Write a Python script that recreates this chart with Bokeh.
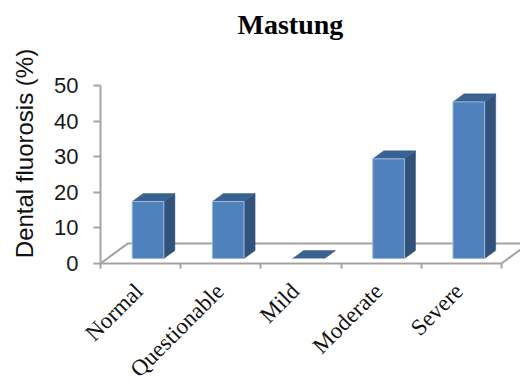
from bokeh.core.properties import value
from bokeh.embed import file_html
from bokeh.models import FixedTicker, Range1d
from bokeh.plotting import figure
from bokeh.resources import INLINE

categories = ["Normal", "Questionable", "Mild", "Moderate", "Severe"]
fluorosis_pct = [16, 16, 0, 28, 44]
y_ticks = [0, 10, 20, 30, 40, 50]
y_title = "Dental fluorosis (%)"

GRID = "#a3a3a3"
FRONT, SIDE, TOP = "#4f81bd", "#30527b", "#3a6291"
EDGE = "#9db9da"

# Pseudo-3D geometry, in data units
BASE = 1.4
LEFT, WIDTH = 0.395, 0.395
BAR_DX, BAR_DY = 0.1375, 2.25
WALL_DX, WALL_DY = 0.3375, 5.6

# The plot area fills the canvas below the title, so the axes sit at fixed
# data locations and the rotated labels can be drawn inside it
X_MIN, X_MAX = -100 / 80.2, 420 / 80.2
Y_MIN, Y_MAX = -32.3, 61.8

# Where each rotated category label ends along the axis
label_pos = [0.48, 1.49, 2.43, 3.47, 4.47]
LABEL_Y = -6.7
Y_TITLE_X, Y_TITLE_Y = -0.948, 30.9

p = figure(width=520, height=378, output_backend="svg", toolbar_location=None,
           x_range=Range1d(X_MIN, X_MAX), y_range=Range1d(Y_MIN, Y_MAX),
           min_border_left=0, min_border_right=0, min_border_top=43, min_border_bottom=0)
p.outline_line_color = None
p.grid.visible = False
p.background_fill_color = None

# Floor of the chart box
n = len(categories)
p.line([0, WALL_DX, X_MAX], [0, WALL_DY, WALL_DY], line_color=GRID, line_width=2)
p.line([n, X_MAX], [0, (X_MAX - n) / WALL_DX * WALL_DY], line_color=GRID, line_width=2)

# Each bar is a front face with a side and a top drawn behind it
xl = [i + LEFT for i in range(n)]
xr = [x + WIDTH for x in xl]
yt = [BASE + v for v in fluorosis_pct]

p.patches([[r, r + BAR_DX, r + BAR_DX, r] for r in xr],
          [[BASE, BASE + BAR_DY, t + BAR_DY, t] for t in yt],
          fill_color=SIDE, line_color=SIDE, line_width=0.5)
p.patches([[l, l + BAR_DX, r + BAR_DX, r] for l, r in zip(xl, xr)],
          [[t, t + BAR_DY, t + BAR_DY, t] for t in yt],
          fill_color=TOP, line_color=TOP, line_width=0.5)
p.quad(left=xl, right=xr, bottom=BASE, top=yt,
       fill_color=FRONT, line_color=EDGE, line_width=1)

xaxis = p.xaxis[0]
xaxis.fixed_location = 0
xaxis.bounds = (0, n)
xaxis.ticker = FixedTicker(ticks=list(range(n + 1)))
xaxis.major_label_text_font_size = "0px"
xaxis.major_label_text_color = None
xaxis.major_tick_out = 5
xaxis.major_tick_in = 0
xaxis.major_tick_line_color = GRID
xaxis.major_tick_line_width = 2
xaxis.minor_tick_line_color = None
xaxis.axis_line_color = GRID
xaxis.axis_line_width = 2

# Category names hang from the axis at 45 degrees, right-aligned
p.text(x=label_pos, y=[LABEL_Y] * n, text=categories, angle=0.785,
       text_align="right", text_baseline="middle",
       text_font=value("Liberation Serif"), text_font_size="23px",
       text_color="#111111")

yaxis = p.yaxis[0]
yaxis.fixed_location = 0
yaxis.bounds = (0, 50)
yaxis.ticker = FixedTicker(ticks=y_ticks)
yaxis.minor_tick_line_color = None
yaxis.major_tick_out = 7
yaxis.major_tick_in = 0
yaxis.major_tick_line_color = GRID
yaxis.major_tick_line_width = 2
yaxis.axis_line_color = GRID
yaxis.axis_line_width = 2
yaxis.major_label_text_font = "Liberation Sans"
yaxis.major_label_text_font_size = "22px"
yaxis.major_label_text_color = "#1a1a1a"
yaxis.major_label_standoff = 15

p.text(x=[Y_TITLE_X], y=[Y_TITLE_Y], text=[y_title], angle=1.5708,
       text_align="center", text_baseline="middle",
       text_font=value("Liberation Sans"), text_font_size="24px",
       text_color="#111111")

p.title.text = "Mastung"
p.title.align = "left"
p.title.text_font = "Liberation Serif"
p.title.text_font_style = "bold"
p.title.text_font_size = "28px"
p.title.text_color = "#000000"
p.title.offset = 237
p.title.standoff = 8

open("out.html", "w").write(file_html(p, INLINE))
